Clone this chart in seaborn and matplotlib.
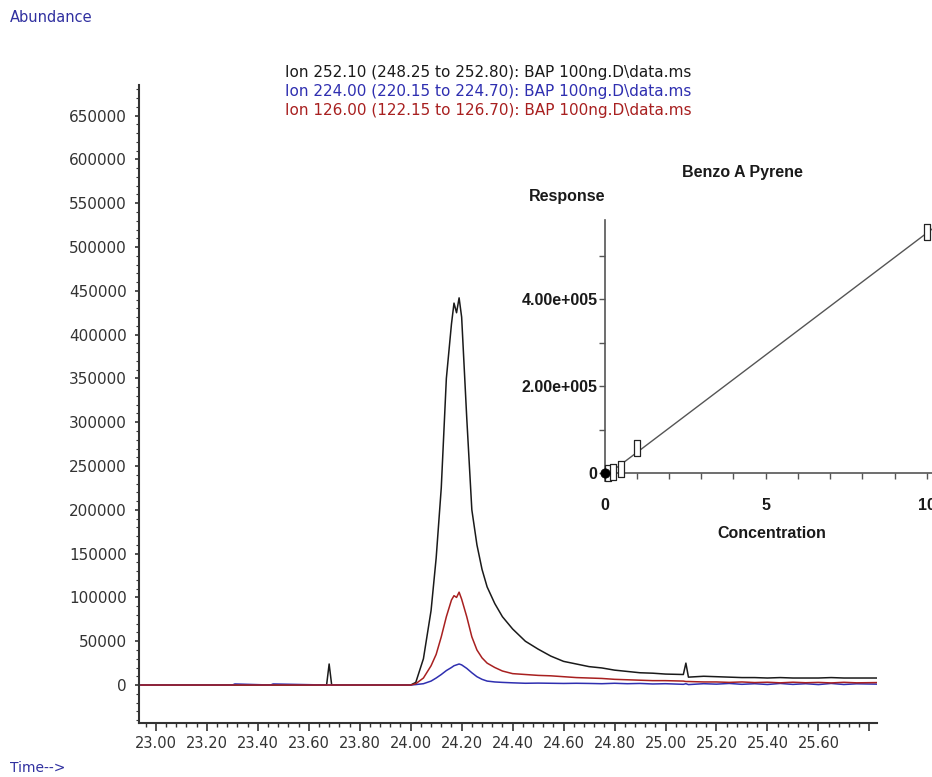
import numpy as np
import pandas as pd
import matplotlib
matplotlib.use("Agg")
import matplotlib.pyplot as plt
from matplotlib.ticker import FixedLocator, MultipleLocator, FixedFormatter
import seaborn as sns

# ---------------- data ----------------
time_min = [22.94, 23.30, 23.31, 23.45, 23.46, 23.67, 23.68, 23.69, 24.00, 24.02, 24.05, 24.08,
            24.10, 24.12, 24.14, 24.16, 24.17, 24.18, 24.19, 24.20, 24.22, 24.24, 24.26,
            24.28, 24.30, 24.33, 24.36, 24.40, 24.45, 24.50, 24.55, 24.60, 24.65, 24.70,
            24.75, 24.80, 24.85, 24.90, 24.95, 25.00, 25.07, 25.08, 25.09, 25.15, 25.20,
            25.25, 25.30, 25.35, 25.40, 25.45, 25.50, 25.55, 25.60, 25.65, 25.70, 25.75,
            25.83]
ion_252 = [0, 0, 0, 0, 0, 0, 24000, 0, 0, 3000, 30000, 85000,
           145000, 225000, 350000, 412000, 436000, 425000, 442000, 420000, 305000, 200000, 160000,
           132000, 112000, 93000, 78000, 64000, 50000, 41000, 33000, 27000, 24000, 21000,
           19500, 17000, 15500, 14000, 13500, 12500, 12000, 25000, 9000, 10000, 9500,
           9000, 8500, 8500, 8000, 8500, 8000, 8000, 8000, 8500, 8000, 8000,
           8000]
ion_224 = [0, 0, 1200, 0, 1200, 0, 0, 0, 0, 500, 1500, 4500,
           8000, 12000, 16500, 20000, 22000, 23000, 24000, 23000, 19000, 14000, 9500,
           6500, 4500, 3500, 3000, 2500, 2000, 2200, 2000, 1800, 2000, 1800,
           1500, 2000, 1500, 1800, 1200, 1500, 800, 1500, 500, 1500, 1000,
           1800, 800, 1500, 600, 1800, 700, 1500, 500, 1800, 600, 1400,
           1000]
ion_126 = [0, 0, 0, 0, 0, 0, 0, 0, 0, 1500, 8000, 22000,
           35000, 55000, 78000, 97000, 102000, 100000, 106000, 98000, 78000, 55000, 40000,
           31000, 25000, 20000, 16000, 13000, 12000, 11000, 10500, 9500, 8500, 8000,
           7500, 6500, 6000, 5500, 5000, 5000, 4500, 4000, 4000, 3500, 3500,
           3000, 3500, 2800, 3200, 2500, 3200, 2600, 3000, 2400, 3100, 2500,
           2800]
ion_labels = ["Ion 252.10 (248.25 to 252.80): BAP 100ng.D\\data.ms",
              "Ion 224.00 (220.15 to 224.70): BAP 100ng.D\\data.ms",
              "Ion 126.00 (122.15 to 126.70): BAP 100ng.D\\data.ms"]
ion_colors = ["#1a1a1a", "#2f2fb0", "#a82020"]

x_major_ticks = [23.0, 23.2, 23.4, 23.6, 23.8, 24.0, 24.2, 24.4, 24.6, 24.8, 25.0, 25.2, 25.4, 25.6, 25.8]
x_tick_labels = ["23.00", "23.20", "23.40", "23.60", "23.80", "24.00", "24.20", "24.40",
                 "24.60", "24.80", "25.00", "25.20", "25.40", "25.60", ""]
y_major_ticks = [0, 50000, 100000, 150000, 200000, 250000, 300000, 350000, 400000,
                 450000, 500000, 550000, 600000, 650000]

# calibration inset
cal_conc = [0.1, 0.25, 0.5, 1.0, 10.0]
cal_resp = [1500, 3000, 9000, 58000, 555000]
origin_conc = [0.0]
origin_resp = [0.0]
fit_conc = [0.4, 10.3]
fit_resp = [14000, 569000]
inset_y_ticks = [0, 200000, 400000]
inset_y_labels = ["0", "2.00e+005", "4.00e+005"]
inset_x_ticks = [0, 5, 10]
inset_x_labels = ["0", "5", "10"]

# ---------------- style ----------------
sns.set_style("ticks")
plt.rcParams["font.family"] = ["DejaVu Sans"]

W, H = 932, 777
fig = plt.figure(figsize=(W / 100, H / 100), dpi=100)

def fx(px):
    return px / W

def fy(py):
    return 1 - py / H

# main chromatogram axes
ax = fig.add_axes([fx(139.3), fy(723.3), fx(877) - fx(139.3), fy(85) - fy(723.3)])
frames = []
for lab, vals in zip(ion_labels, [ion_252, ion_224, ion_126]):
    frames.append(pd.DataFrame({"time": time_min, "abundance": vals, "ion": lab}))
df = pd.concat(frames, ignore_index=True)
sns.lineplot(data=df, x="time", y="abundance", hue="ion", hue_order=ion_labels,
             palette=dict(zip(ion_labels, ion_colors)), estimator=None, sort=False,
             legend=False, linewidth=1.1, ax=ax)

ax.set_xlim(22.935, 25.83)
ax.set_ylim(-43700, 685000)
for s in ["top", "right"]:
    ax.spines[s].set_visible(False)
for s in ["left", "bottom"]:
    ax.spines[s].set_color("#333333")
    ax.spines[s].set_linewidth(1.5)
ax.xaxis.set_major_locator(FixedLocator(x_major_ticks))
ax.xaxis.set_major_formatter(FixedFormatter(x_tick_labels))
ax.xaxis.set_minor_locator(MultipleLocator(0.04))
ax.yaxis.set_major_locator(FixedLocator(y_major_ticks))
ax.yaxis.set_minor_locator(MultipleLocator(10000))
ax.set_yticklabels([str(v) for v in y_major_ticks])
ax.tick_params(axis="x", which="major", length=6, width=1.2, color="#333333",
               labelsize=10.5, labelcolor="#333333", pad=3)
ax.tick_params(axis="x", which="minor", length=3, width=1.0, color="#333333")
ax.tick_params(axis="y", which="major", length=3, width=1.2, color="#333333",
               labelsize=11, labelcolor="#333333", pad=6)
ax.tick_params(axis="y", which="minor", length=2, width=0.8, color="#333333")
ax.set_xlabel("")
ax.set_ylabel("")

fig.text(fx(10), fy(18), "Abundance", color="#3030a0", fontsize=10.5, va="center", ha="left")
fig.text(fx(10), fy(768), "Time-->", color="#3030a0", fontsize=10, va="center", ha="left")
for i, (lab, col) in enumerate(zip(ion_labels, ion_colors)):
    fig.text(fx(285), fy(73 + 18.5 * i), lab, color=col, fontsize=11, va="center", ha="left")

# calibration inset
bold_font = ["Liberation Sans Narrow", "Liberation Sans", "DejaVu Sans"]
ix0, ix1 = 604.5, 604.5 + 10.35 * 32.24
iax = fig.add_axes([fx(ix0), fy(481.1), fx(ix1) - fx(ix0), fy(220) - fy(481.1)])
iax.patch.set_alpha(0)
sns.lineplot(x=fit_conc, y=fit_resp, color="#555555", linewidth=1.0, ax=iax)
rect_marker = [(-0.36, -1), (0.36, -1), (0.36, 1), (-0.36, 1), (-0.36, -1)]
sns.scatterplot(x=cal_conc, y=cal_resp, marker=rect_marker, s=120, facecolor="white",
                edgecolor="#222222", linewidth=0.9, ax=iax, zorder=3, clip_on=False)
sns.scatterplot(x=origin_conc, y=origin_resp, marker="o", s=45, color="black",
                edgecolor="black", ax=iax, zorder=4, clip_on=False)
iax.set_xlim(0, 10.35)
iax.set_ylim(-18000, 582000)
for s in ["top", "right"]:
    iax.spines[s].set_visible(False)
iax.spines["bottom"].set_position(("data", 0))
for s in ["left", "bottom"]:
    iax.spines[s].set_color("#555555")
    iax.spines[s].set_linewidth(1.2)
iax.xaxis.set_major_locator(FixedLocator(inset_x_ticks))
iax.xaxis.set_major_formatter(FixedFormatter(inset_x_labels))
iax.xaxis.set_minor_locator(MultipleLocator(1))
iax.yaxis.set_major_locator(FixedLocator(inset_y_ticks))
iax.yaxis.set_major_formatter(FixedFormatter(inset_y_labels))
iax.yaxis.set_minor_locator(MultipleLocator(100000))
iax.tick_params(axis="both", which="both", length=4, width=1.0, color="#555555")
iax.tick_params(axis="x", which="major", pad=14)
iax.tick_params(axis="y", which="major", pad=1)
for t in iax.get_xticklabels() + iax.get_yticklabels():
    t.set_fontfamily(bold_font)
    t.set_fontweight("bold")
    t.set_fontsize(11.5)
    t.set_color("#1a1a1a")
iax.set_xlabel("Concentration", fontfamily=bold_font, fontweight="bold", fontsize=11.5,
               color="#1a1a1a", labelpad=9)
iax.set_ylabel("")
fig.text(fx(567), fy(197), "Response", fontfamily=bold_font, fontweight="bold",
         fontsize=11.5, color="#1a1a1a", ha="center", va="center")
fig.text(fx(742), fy(173), "Benzo A Pyrene", fontfamily=bold_font, fontweight="bold",
         fontsize=11.5, color="#1a1a1a", ha="center", va="center")

fig.savefig("out.png", dpi=100)
